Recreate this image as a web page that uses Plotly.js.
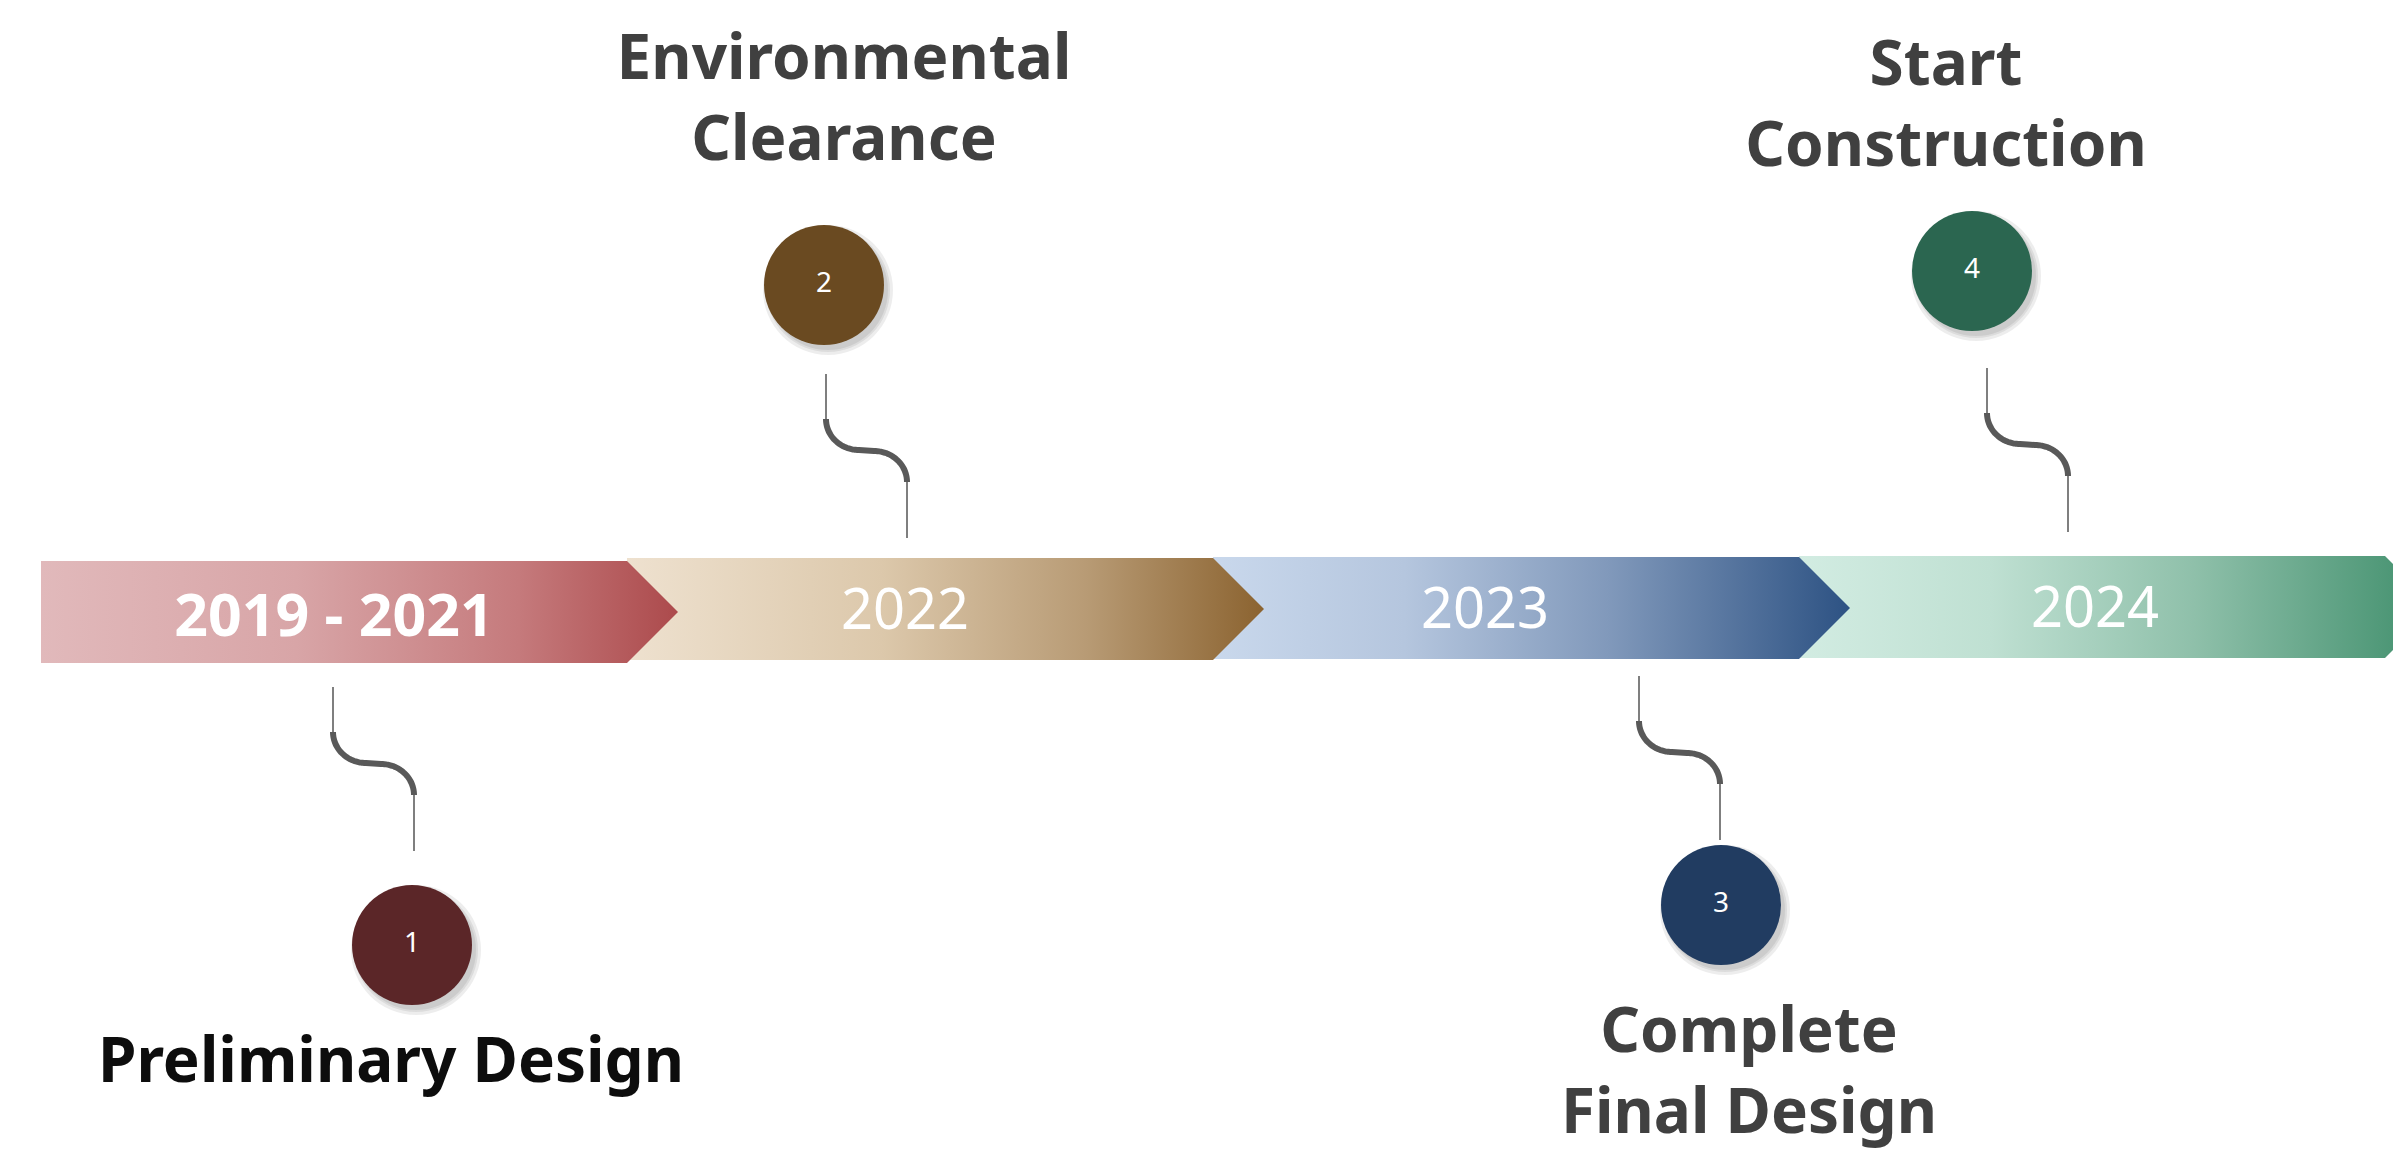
<!DOCTYPE html>
<html>
<head>
<meta charset="utf-8">
<script src="https://cdn.plot.ly/plotly-3.0.1.min.js"></script>
<style>html,body{margin:0;padding:0;background:#fff;overflow:hidden}#chart{width:2393px;height:1153px}</style>
</head>
<body>
<div id="chart"></div>
<script>
// ---------------- DATA ----------------
const periods = ['2019 - 2021', '2022', '2023', '2024'];
const milestoneLabels = ['Preliminary Design', 'Environmental<br>Clearance', 'Complete<br>Final Design', 'Start<br>Construction'];
const milestoneNumbers = ['1', '2', '3', '4'];
const milestoneSides = ['below', 'above', 'below', 'above'];

// ---------------- LAYOUT / STYLE ----------------
const W = 2393, H = 1153;
const bandLeft = 41, segW = 586, tipLen = 51, bandH = 102;
const bandTop = [561, 558, 557, 556];
const labelCx = [334, 905, 1485, 2095];
const labelDy = [9, 6, 6, 6];
const gradients = [
  [[0, '#e1b9bb'], [0.4, '#d8a5a7'], [0.75, '#c57a7c'], [1, '#ac4a4c']],
  [[0, '#eee1cf'], [0.4, '#dcc8ab'], [0.72, '#b89b75'], [1, '#8b6330']],
  [[0, '#c9d8ec'], [0.3, '#b5c6de'], [0.62, '#8199bb'], [1, '#2d5283']],
  [[0, '#d2ece2'], [0.3, '#bfe0d2'], [0.62, '#8fc0aa'], [1, '#3f8e6b']]
];
const circleColors = ['#5b2628', '#6a4a21', '#213c61', '#2b6650'];
const circleCx = [412, 824, 1721, 1972];
const circleCy = [945, 285, 905, 271];
const connLeftX = [333, 826, 1639, 1987];
const connTop = [687, 374, 676, 368];
const textX = [391, 844, 1749, 1946];
const textY = [1066, 104, 1077, 110];
const textColors = ['#0d0d0d', '#404040', '#404040', '#404040'];
const labelFont = 'Noto Sans, DejaVu Sans, sans-serif';
const yearFont = 'Noto Sans, DejaVu Sans, sans-serif';

const traces = [];

// band segments (drawn last-to-first so each tip overlaps the next segment)
for (let i = periods.length - 1; i >= 0; i--) {
  const L = bandLeft + i * segW, R = L + segW, T = R + tipLen;
  const top = bandTop[i], bot = top + bandH, mid = top + bandH / 2;
  traces.push({
    type: 'scatter', mode: 'lines', hoverinfo: 'skip',
    x: [L, R, T, R, L, L], y: [top, top, mid, bot, bot, top],
    fill: 'toself', line: {width: 0, color: 'rgba(0,0,0,0)'},
    fillgradient: {type: 'horizontal', start: L, stop: T, colorscale: gradients[i]}
  });
}

// period labels
traces.push({
  type: 'scatter', mode: 'text', hoverinfo: 'skip',
  x: [labelCx[0]], y: [bandTop[0] + bandH / 2 + labelDy[0]], text: [periods[0]],
  textposition: 'middle center',
  textfont: {family: yearFont, size: 59, color: '#ffffff', weight: 'bold'}
});
traces.push({
  type: 'scatter', mode: 'text', hoverinfo: 'skip',
  x: labelCx.slice(1), y: bandTop.slice(1).map((t, k) => t + bandH / 2 + labelDy[k + 1]), text: periods.slice(1),
  textposition: 'middle center',
  textfont: {family: yearFont, size: 56, color: '#ffffff'}
});

// connectors: thin stem, S-bend (two quarter arcs joined by a short run), thin stem
const thin1 = 45, sDy = 63, sDx = 81, thin2 = 56, rx = 33, ry = 31;
for (let i = 0; i < milestoneLabels.length; i++) {
  const x0 = connLeftX[i], y0 = connTop[i];
  const ys = y0 + thin1, xe = x0 + sDx, ye = ys + sDy;
  traces.push({type: 'scatter', mode: 'lines', hoverinfo: 'skip', x: [x0, x0], y: [y0, ys], line: {color: '#7f7f7f', width: 2}});
  const cx = [], cy = [];
  for (let k = 0; k <= 30; k++) {
    const th = (k / 30) * Math.PI / 2;
    cx.push(x0 + rx - rx * Math.cos(th));
    cy.push(ys + ry * Math.sin(th));
  }
  for (let k = 0; k <= 30; k++) {
    const ph = (k / 30) * Math.PI / 2;
    cx.push(xe - rx + rx * Math.sin(ph));
    cy.push(ye - ry * Math.cos(ph));
  }
  traces.push({type: 'scatter', mode: 'lines', hoverinfo: 'skip', x: cx, y: cy, line: {color: '#595959', width: 6, shape: 'spline', smoothing: 0.6}});
  traces.push({type: 'scatter', mode: 'lines', hoverinfo: 'skip', x: [xe, xe], y: [ye, ye + thin2], line: {color: '#7f7f7f', width: 2}});
}

// circle shadows
[130, 124, 120].forEach((s) => {
  traces.push({
    type: 'scatter', mode: 'markers', hoverinfo: 'skip',
    x: circleCx.map(v => v + 4), y: circleCy.map(v => v + 5),
    marker: {size: s, color: 'rgba(0,0,0,0.07)', line: {width: 0}}
  });
});

// milestone circles with numbers
traces.push({
  type: 'scatter', mode: 'markers+text', hoverinfo: 'skip',
  x: circleCx, y: circleCy, text: milestoneNumbers, textposition: 'middle center',
  marker: {size: 120, color: circleColors, line: {width: 0}},
  textfont: {family: labelFont, size: 28, color: '#ffffff'}
});

// milestone labels
traces.push({
  type: 'scatter', mode: 'text', hoverinfo: 'skip',
  x: textX, y: textY, text: milestoneLabels, textposition: 'middle center',
  textfont: {family: labelFont, size: 62, color: textColors, weight: 'bold'}
});

const layout = {
  width: W, height: H,
  margin: {l: 0, r: 0, t: 0, b: 0, pad: 0},
  paper_bgcolor: '#ffffff', plot_bgcolor: '#ffffff',
  showlegend: false,
  xaxis: {range: [0, W], visible: false, fixedrange: true},
  yaxis: {range: [H, 0], visible: false, fixedrange: true}
};

Plotly.newPlot('chart', traces, layout, {staticPlot: true, displayModeBar: false});
</script>
</body>
</html>
